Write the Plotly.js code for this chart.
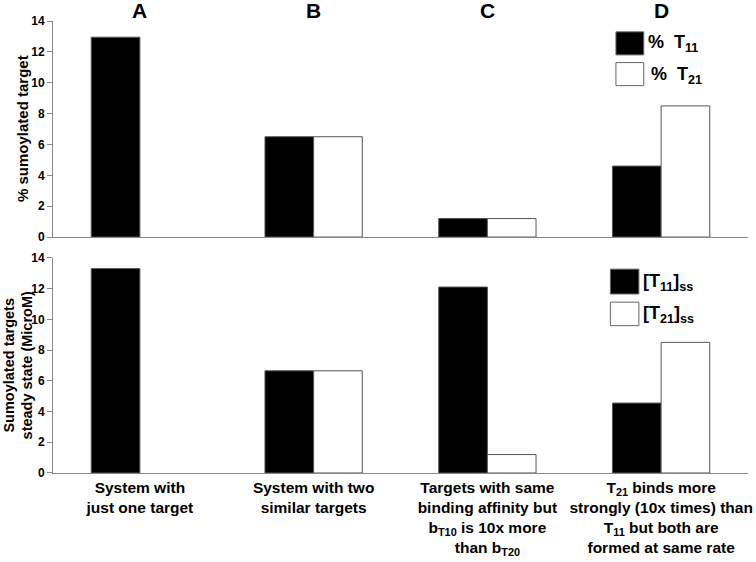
<!DOCTYPE html>
<html>
<head>
<meta charset="utf-8">
<script src="https://cdn.plot.ly/plotly-3.0.1.min.js"></script>
<style>
  body { margin: 0; background: #fff; }
  #plot { width: 756px; height: 562px; }
</style>
</head>
<body>
<div id="plot"></div>
<script>
// scenarios (x positions 1..4)
const scenarios = [1, 2, 3, 4];
const panelLetters = ['A', 'B', 'C', 'D'];
const scenarioLabels = [
    'System with<br>just one target',
    'System with two<br>similar targets',
    'Targets with same<br>binding affinity but<br>b<sub>T10</sub> is 10x more<br>than b<sub>T20</sub>',
    'T<sub>21</sub> binds more<br>strongly (10x times) than<br>T<sub>11</sub> but both are<br>formed at same rate'
];

// top panel: % sumoylated target
const pctT11 = [12.95, 6.5, 1.2, 4.6];
const pctT21 = [null, 6.5, 1.2, 8.5];

// bottom panel: steady state (MicroM)
const ssT11 = [13.3, 6.65, 12.1, 4.55];
const ssT21 = [null, 6.65, 1.2, 8.5];

const boldFont = { family: 'Arial, "Liberation Sans", sans-serif', color: '#000', weight: 'bold' };
const edge = { color: '#555', width: 1 };

function barTrace(y, fill, xa, ya) {
    return {
        x: scenarios, y: y, type: 'bar',
        xaxis: xa, yaxis: ya,
        marker: { color: fill, line: edge },
        showlegend: false, hoverinfo: 'skip'
    };
}

const traces = [
    barTrace(pctT11, '#000', 'x2', 'y2'),
    barTrace(pctT21, '#fff', 'x2', 'y2'),
    barTrace(ssT11, '#000', 'x', 'y'),
    barTrace(ssT21, '#fff', 'x', 'y')
];

const yStyle = {
    range: [0, 14], dtick: 2, ticks: 'outside', ticklen: 5, tickcolor: '#888',
    showline: true, linecolor: '#888', linewidth: 1, showgrid: false, zeroline: false,
    tickfont: Object.assign({ size: 12 }, boldFont)
};
const xStyle = {
    range: [0.5, 4.5], showline: true, linecolor: '#888', linewidth: 1,
    showgrid: false, zeroline: false, ticks: ''
};

const topDomain = [0.522, 1];
const botDomain = [0, 0.476];

// panel letters above the top plot
const letterNotes = panelLetters.map((t, i) => ({
    text: t, x: scenarios[i], xref: 'x2', y: 1.0, yref: 'paper', yanchor: 'middle', yshift: 11,
    showarrow: false, font: Object.assign({ size: 21 }, boldFont)
}));

// y titles placed by hand so they sit close to the tick labels
function yTitle(t, dom, xshift, size) {
    return { text: t, x: 0, xref: 'paper', xanchor: 'center', xshift: xshift,
             y: (dom[0] + dom[1]) / 2, yref: 'paper', yanchor: 'middle',
             textangle: -90, showarrow: false, font: Object.assign({ size: size }, boldFont) };
}

// legend boxes and text (drawn by hand to match the large swatches)
function box(x0, x1, y0, y1, fill) {
    return { type: 'rect', xref: 'paper', yref: 'paper', x0: x0, x1: x1, y0: y0, y1: y1,
             fillcolor: fill, line: { color: '#666', width: 1 } };
}
function legText(t, x, y) {
    return { text: t, x: x, y: y, xref: 'paper', yref: 'paper', xanchor: 'left', yanchor: 'middle',
             showarrow: false, font: Object.assign({ size: 18 }, boldFont) };
}

const layout = {
    width: 756, height: 562,
    margin: { l: 53, r: 8, t: 21, b: 89 },
    paper_bgcolor: '#fff', plot_bgcolor: '#fff',
    barmode: 'group', bargap: 0.44, bargroupgap: 0,
    xaxis: Object.assign({ anchor: 'y', tickvals: scenarios, ticktext: scenarioLabels,
        tickfont: Object.assign({ size: 15.5 }, boldFont) }, xStyle),
    yaxis: Object.assign({ domain: botDomain, anchor: 'x' }, yStyle),
    xaxis2: Object.assign({ anchor: 'y2', showticklabels: false }, xStyle),
    yaxis2: Object.assign({ domain: topDomain, anchor: 'x2' }, yStyle),
    shapes: [
        box(0.810, 0.850, 0.925, 0.976, '#000'),
        box(0.810, 0.850, 0.857, 0.908, '#fff'),
        box(0.802, 0.843, 0.396, 0.451, '#000'),
        box(0.802, 0.843, 0.326, 0.378, '#fff')
    ],
    annotations: letterNotes.concat([
        yTitle('% sumoylated target', topDomain, -31, 15),
        yTitle('Sumoylated targets<br>steady state (MicroM)', botDomain, -35, 14.5),
        legText('%  T<sub>11</sub>', 0.853, 0.951),
        legText('%  T<sub>21</sub>', 0.858, 0.880),
        legText('[T<sub>11</sub>]<sub>ss</sub>', 0.846, 0.422),
        legText('[T<sub>21</sub>]<sub>ss</sub>', 0.846, 0.350)
    ])
};

Plotly.newPlot('plot', traces, layout, { displayModeBar: false, staticPlot: true });
</script>
</body>
</html>
